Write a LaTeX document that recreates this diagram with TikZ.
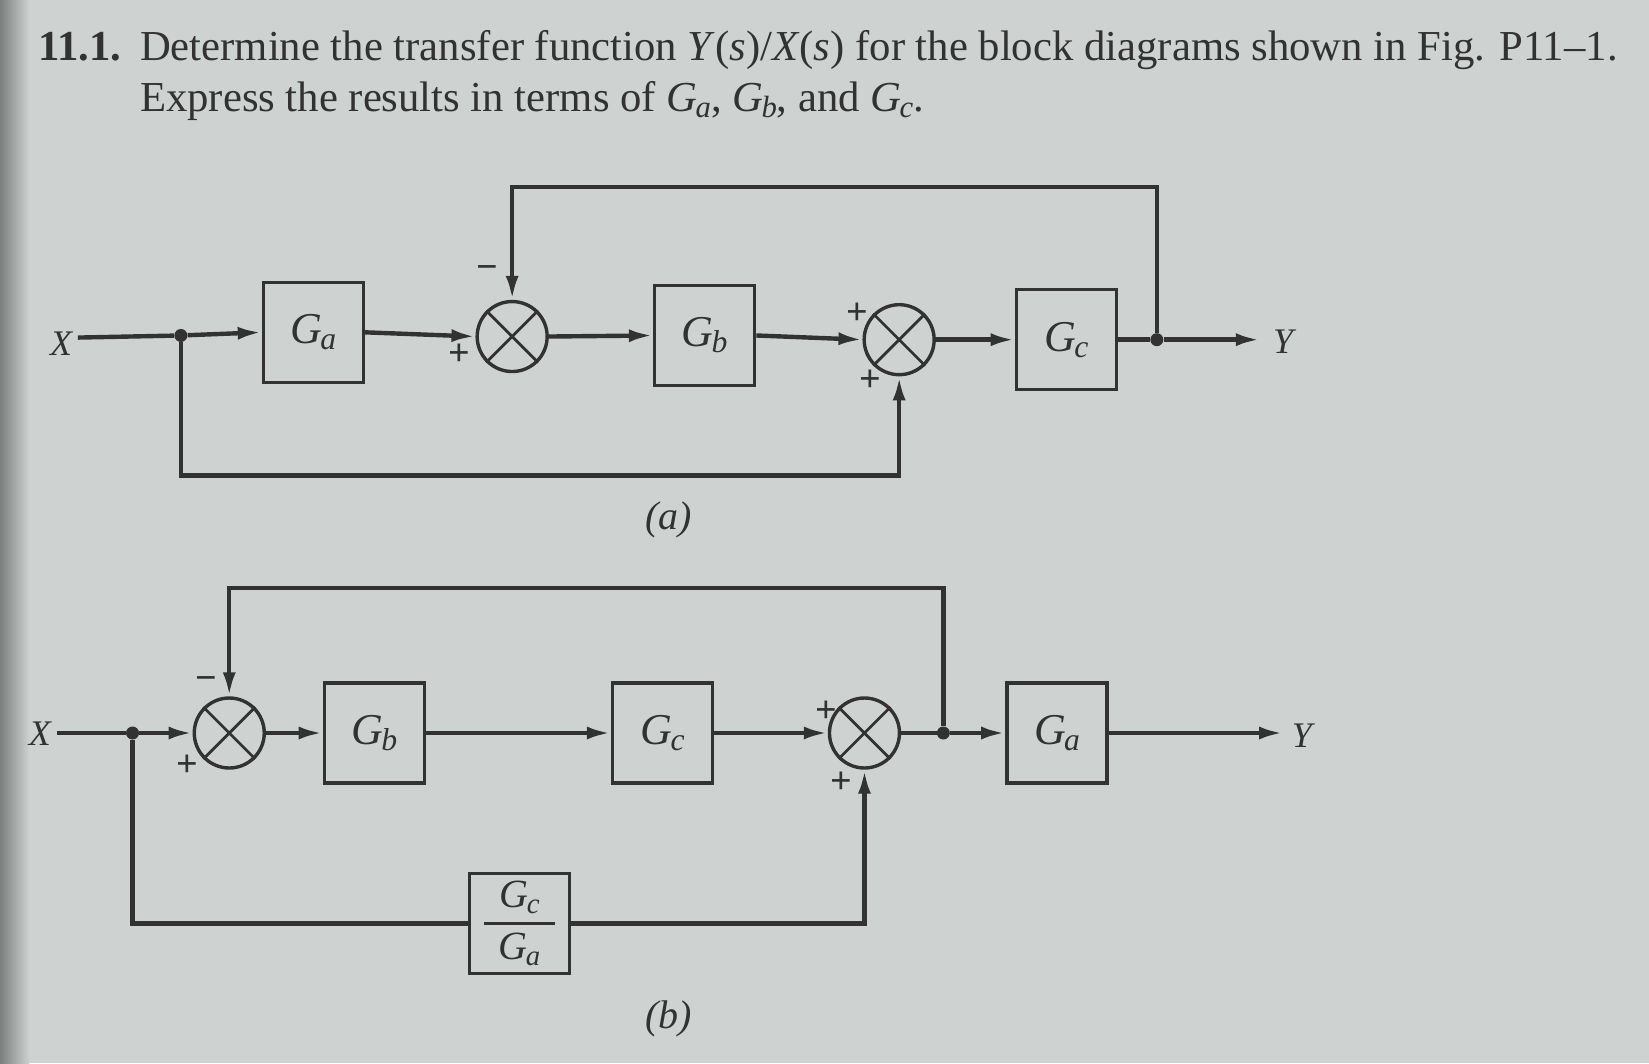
\documentclass[tikz,border=0pt]{standalone}
\usepackage{fontspec}
\setmainfont{Liberation Serif}
\usetikzlibrary{arrows.meta}
\definecolor{paper}{RGB}{206,211,209}
\definecolor{ink}{RGB}{50,50,50}
\newcommand\Gsub[1]{\textit{G}\kern-0.04em\raisebox{-0.3ex}{\scalebox{0.72}{\textit{#1}}}}
\begin{document}
\begin{tikzpicture}[x=1.0517pt,y=-1.0517pt,
 sig/.style={line width=4.4pt, draw=ink},
 arr/.style={sig,-{Latex[length=24pt,width=13pt]}},
 blk/.style={draw=ink, line width=3.4pt, minimum width=100pt, minimum height=100pt, inner sep=0pt, font=\fontsize{44}{48}\selectfont, text=ink},
 sumj/.style={circle, draw=ink, line width=3.4pt, minimum size=70pt, inner sep=0pt},
 cross/.style={draw=ink, line width=2.8pt},
 dotj/.style={circle, fill=ink, minimum size=13pt, inner sep=0pt},
 sgn/.style={font=\fontsize{38}{38}\selectfont\bfseries, text=ink, inner sep=0pt},
 io/.style={font=\fontsize{36}{36}\selectfont\itshape, text=ink, inner sep=0pt},
 figcap/.style={font=\fontsize{40}{40}\selectfont, text=ink, inner sep=0pt},
 ttl/.style={font=\fontsize{42.7}{48}\selectfont, text=ink, inner sep=0pt, anchor=base west}]

\fill[paper] (0,0) rectangle (1568,1011);
\shade[left color=black!40!paper, right color=paper] (0,0) rectangle (28,1011);
\useasboundingbox (0,0) rectangle (1568,1011);

% title
\node[ttl] (num) at (36,58) {\textbf{11.1.}};
\node[ttl] (l1) at (133,58) {Determine the transfer function \textit{Y}(\textit{s})/\textit{X}(\textit{s}) for the block diagrams shown in Fig. P11–1.};
\node[ttl] (l2) at (133,106) {Express the results in terms of \Gsub{a}, \Gsub{b}, and \Gsub{c}.};

% ---------- diagram (a)
\node[io] (Xa) at (58,327) {X};
\coordinate (xa0) at (74,321);
\node[dotj] (ja) at (172,319) {};
\node[blk] (Ga1) at (298,316) {\Gsub{a}};
\node[sumj] (sa1) at (487,320) {};
\node[blk] (Gb1) at (670,319) {\Gsub{b}};
\node[sumj] (sa2) at (855,323) {};
\node[blk] (Gc1) at (1014,323) {\Gsub{c}};
\node[dotj] (jya) at (1100,323) {};
\coordinate (ya) at (1198,323);
\node[io] (Ya) at (1220,325) {Y};
\coordinate (ta) at (800,178);
\coordinate (ba) at (500,452);

\draw[cross] (sa1.north west) -- (sa1.south east) (sa1.north east) -- (sa1.south west);
\draw[cross] (sa2.north west) -- (sa2.south east) (sa2.north east) -- (sa2.south west);

\draw[sig] (xa0) -- (ja);
\draw[arr] (ja) -- (Ga1.west);
\draw[arr] (Ga1.east) -- (sa1.west);
\draw[arr] (sa1.east) -- (Gb1.west);
\draw[arr] (Gb1.east) -- (sa2.west);
\draw[arr] (sa2.east) -- (Gc1.west);
\draw[sig] (Gc1.east) -- (jya);
\draw[arr] (jya) -- (ya);
\draw[arr] (jya) |- (ta) -| (sa1.north);
\draw[arr] (ja) |- (ba) -| (sa2.south);

\node[sgn] (ma1) at (463,259) {−};
\node[sgn] (pa1) at (437,337) {+};
\node[sgn] (pa2) at (815,298) {+};
\node[sgn] (pa3) at (828,362) {+};
\node[figcap] (capa) at (636,494) {\textit{(a)}};

% ---------- diagram (b)
\node[io] (Xb) at (38,698) {X};
\coordinate (xb0) at (54,697);
\node[dotj] (jb) at (126,697) {};
\node[sumj] (sb1) at (218,697) {};
\node[blk] (Gb2) at (356,697) {\Gsub{b}};
\node[blk] (Gc2) at (630,697) {\Gsub{c}};
\node[sumj] (sb2) at (822,697) {};
\node[dotj] (jyb) at (897,697) {};
\node[blk] (Ga2) at (1005,697) {\Gsub{a}};
\coordinate (yb) at (1220,697);
\node[io] (Yb) at (1238,700) {Y};
\node[blk, align=center, font=\fontsize{40}{52}\selectfont] (fr) at (494,878) {\Gsub{c}\\\Gsub{a}};
\coordinate (tb) at (500,559);

\draw[cross] (sb1.north west) -- (sb1.south east) (sb1.north east) -- (sb1.south west);
\draw[cross] (sb2.north west) -- (sb2.south east) (sb2.north east) -- (sb2.south west);
\draw[draw=ink, line width=2.8pt] ([xshift=16pt]fr.west) -- ([xshift=-16pt]fr.east);

\draw[sig] (xb0) -- (jb);
\draw[arr] (jb) -- (sb1.west);
\draw[arr] (sb1.east) -- (Gb2.west);
\draw[arr] (Gb2.east) -- (Gc2.west);
\draw[arr] (Gc2.east) -- (sb2.west);
\draw[sig] (sb2.east) -- (jyb);
\draw[arr] (jyb) -- (Ga2.west);
\draw[arr] (Ga2.east) -- (yb);
\draw[arr] (jyb) |- (tb) -| (sb1.north);
\draw[sig] (jb) |- (fr.west);
\draw[arr] (fr.east) -| (sb2.south);

\node[sgn] (mb1) at (196,650) {−};
\node[sgn] (pb1) at (178,728) {+};
\node[sgn] (pb2) at (786,677) {+};
\node[sgn] (pb3) at (800,744) {+};
\node[figcap] (capb) at (636,969) {\textit{(b)}};
\end{tikzpicture}
\end{document}
